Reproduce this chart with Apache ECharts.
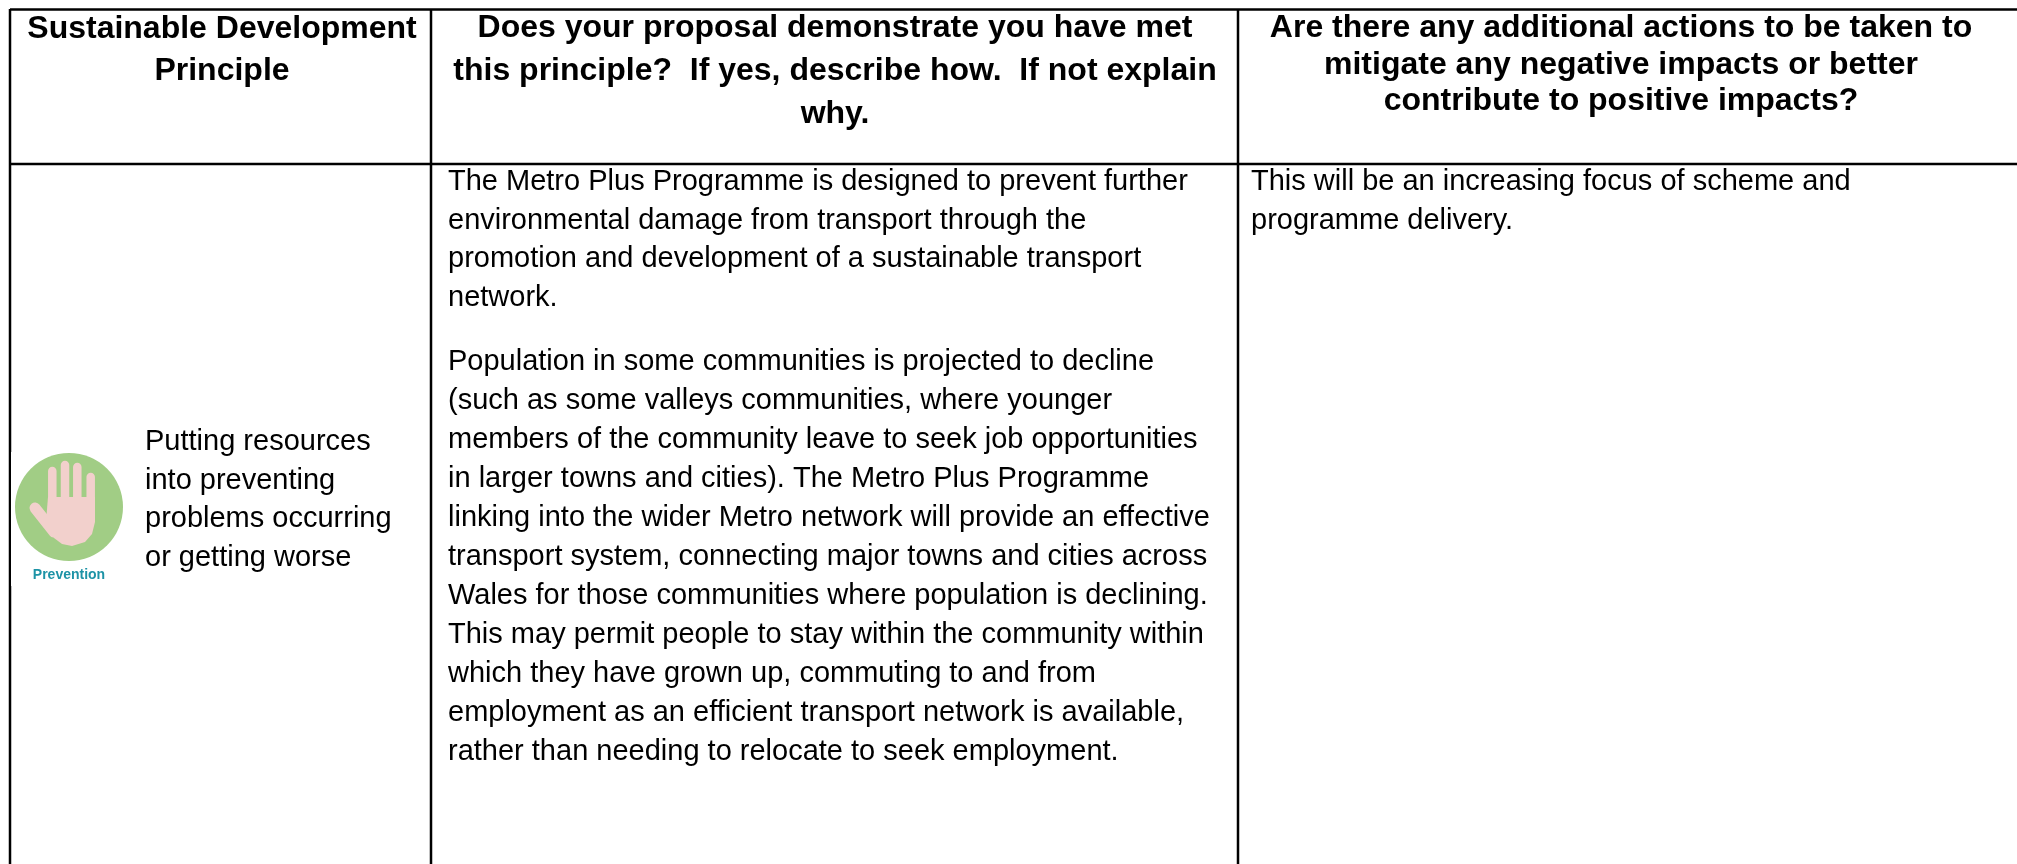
<!DOCTYPE html>
<html>
<head>
<meta charset="utf-8">
<style>html,body{margin:0;padding:0;background:#fff}#main{width:2017px;height:864px}</style>
<script src="https://cdn.jsdelivr.net/npm/echarts@6/dist/echarts.min.js"></script>
</head>
<body>
<div id="main"></div>
<script>
var headerPrinciple = ['Sustainable Development', 'Principle'];
var headerProposal = ['Does your proposal demonstrate you have met', 'this principle?  If yes, describe how.  If not explain', 'why.'];
var headerActions = ['Are there any additional actions to be taken to', 'mitigate any negative impacts or better', 'contribute to positive impacts?'];
var principleText = ['Putting resources', 'into preventing', 'problems occurring', 'or getting worse'];
var proposalPara1 = ['The Metro Plus Programme is designed to prevent further', 'environmental damage from transport through the', 'promotion and development of a sustainable transport', 'network.'];
var proposalPara2 = ['Population in some communities is projected to decline', '(such as some valleys communities, where younger', 'members of the community leave to seek job opportunities', 'in larger towns and cities). The Metro Plus Programme', 'linking into the wider Metro network will provide an effective', 'transport system, connecting major towns and cities across', 'Wales for those communities where population is declining.', 'This may permit people to stay within the community within', 'which they have grown up, commuting to and from', 'employment as an efficient transport network is available,', 'rather than needing to relocate to seek employment.'];
var actionsText = ['This will be an increasing focus of scheme and', 'programme delivery.'];

var chart = echarts.init(document.getElementById('main'));
var font = '"Liberation Sans", Arial, sans-serif';
var els = [];

function line(x1, y1, x2, y2) {
  els.push({type: 'line', shape: {x1: x1, y1: y1, x2: x2, y2: y2}, style: {stroke: '#000', lineWidth: 2.5}});
}
// 一列文字
function textBlock(lines, x, y, lh, size, weight, align) {
  lines.forEach(function (s, i) {
    els.push({type: 'text', x: x, y: y + i * lh, style: {text: s, fontFamily: font, fontSize: size, fontWeight: weight, fill: '#000', align: align, verticalAlign: 'middle'}});
  });
}
function finger(x, top, bottom, w) {
  els.push({type: 'line', shape: {x1: x, y1: top, x2: x, y2: bottom}, style: {stroke: '#f2d0cc', lineWidth: w, lineCap: 'round'}});
}

// 表格线
line(10, 9.5, 2017, 9.5);
line(10, 164, 2017, 164);
line(10, 9, 10, 864);
line(431, 9, 431, 864);
line(1238, 9, 1238, 864);

textBlock(headerPrinciple, 222, 29, 42, 32, 'bold', 'center');
textBlock(headerProposal, 835, 28, 43, 32, 'bold', 'center');
textBlock(headerActions, 1621, 28, 36.7, 32, 'bold', 'center');

textBlock(principleText, 145, 442, 38.5, 29, 'normal', 'left');
textBlock(proposalPara1, 448, 182, 38.7, 29, 'normal', 'left');
textBlock(proposalPara2, 448, 362, 39, 29, 'normal', 'left');
textBlock(actionsText, 1251, 182, 38.7, 29, 'normal', 'left');

// 图标
els.push({type: 'rect', shape: {x: 11, y: 452, width: 110, height: 134}, style: {fill: '#fff'}});
els.push({type: 'circle', shape: {cx: 69, cy: 507, r: 54}, style: {fill: '#a1cd85'}});
finger(52.3, 471, 505, 8.5);
finger(65, 465, 505, 8.5);
finger(77.3, 467, 505, 8.5);
finger(90.7, 477, 505, 8.5);
els.push({type: 'line', shape: {x1: 35, y1: 508, x2: 54, y2: 532}, style: {stroke: '#f2d0cc', lineWidth: 11, lineCap: 'round'}});
els.push({type: 'polygon', shape: {points: [[48, 497], [95, 497], [95, 522], [92, 534], [85, 542], [72, 546], [62, 544], [54, 538], [46, 522]]}, style: {fill: '#f2d0cc'}});
els.push({type: 'text', x: 69, y: 575, style: {text: 'Prevention', fontFamily: font, fontSize: 14, fontWeight: 'bold', fill: '#1d93a6', align: 'center', verticalAlign: 'middle'}});

chart.setOption({animation: false, graphic: {elements: els}});
</script>
</body>
</html>
